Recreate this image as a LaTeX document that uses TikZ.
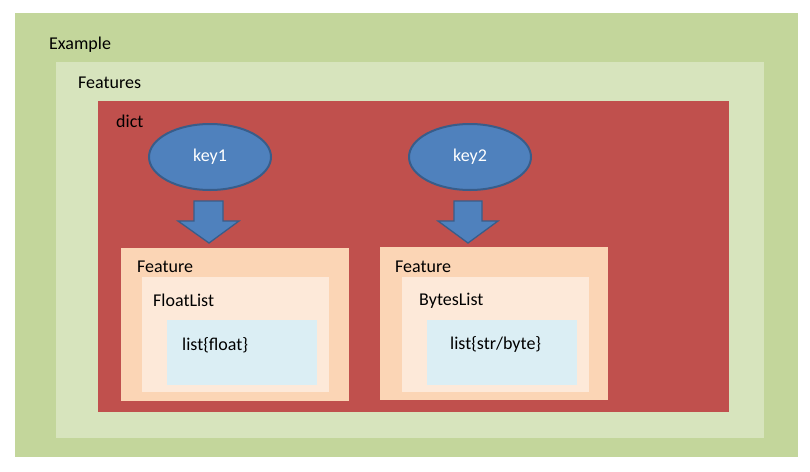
\documentclass[tikz,border=0pt]{standalone}
\usepackage{fontspec}
\setmainfont{Carlito}
\usetikzlibrary{shapes.geometric}
\definecolor{exgreen}{HTML}{C3D69B}
\definecolor{ftgreen}{HTML}{D7E4BD}
\definecolor{dictred}{HTML}{C0504D}
\definecolor{peach}{HTML}{FBD5B5}
\definecolor{lightpeach}{HTML}{FDE9D9}
\definecolor{lightblue}{HTML}{DBEEF4}
\definecolor{keyblue}{HTML}{4F81BD}
\definecolor{keyedge}{HTML}{385D8A}
\tikzset{
  lbl/.style={anchor=base west,inner sep=0pt,font=\fontsize{18}{20}\selectfont,text=black},
  keynode/.style={ellipse,fill=keyblue,draw=keyedge,line width=2pt,minimum width=122pt,minimum height=66pt,inner sep=0pt,text=white,font=\fontsize{18}{20}\selectfont},
  blockarrow/.style={fill=keyblue,draw=keyedge,line width=1.3pt,line join=miter}
}
\begin{document}
\begin{tikzpicture}[x=1pt,y=-1pt]
\useasboundingbox[fill=white] (0,0) rectangle (810,471);
% boxes
\fill[exgreen] (15,13) rectangle (798,457);
\fill[ftgreen] (56,62) rectangle (764,438);
\fill[dictred] (98,101) rectangle (729,412);
\fill[peach] (121,248) rectangle (349,401);
\fill[lightpeach] (142,277) rectangle (329,392);
\fill[lightblue] (167,320) rectangle (317,385);
\fill[peach] (380,247) rectangle (608,400);
\fill[lightpeach] (402,277) rectangle (589,392);
\fill[lightblue] (427,320) rectangle (577,385);
% labels
\node[lbl] (example) at (49,49) {Example};
\node[lbl] (features) at (78,88) {Features};
\node[lbl] (dict) at (116,127) {dict};
\node[lbl] (feat1) at (137,272) {Feature};
\node[lbl] (float1) at (153,306) {FloatList};
\node[lbl] (lf) at (182,350) {list\{float\}};
\node[lbl] (feat2) at (395,272) {Feature};
\node[lbl] (bytes2) at (419,305) {BytesList};
\node[lbl] (lb) at (450,349) {list\{str/byte\}};
% keys
\node[keynode] (key1) at (210,157) {key1};
\node[keynode] (key2) at (470,157) {key2};
% block arrows
\draw[blockarrow] (194,201) -- (223,201) -- (223,221) -- (239,221) -- (209,243) -- (178,221) -- (194,221) -- cycle;
\draw[blockarrow] (454,201) -- (482,201) -- (482,221) -- (498,221) -- (468,243) -- (438,221) -- (454,221) -- cycle;
\end{tikzpicture}
\end{document}
